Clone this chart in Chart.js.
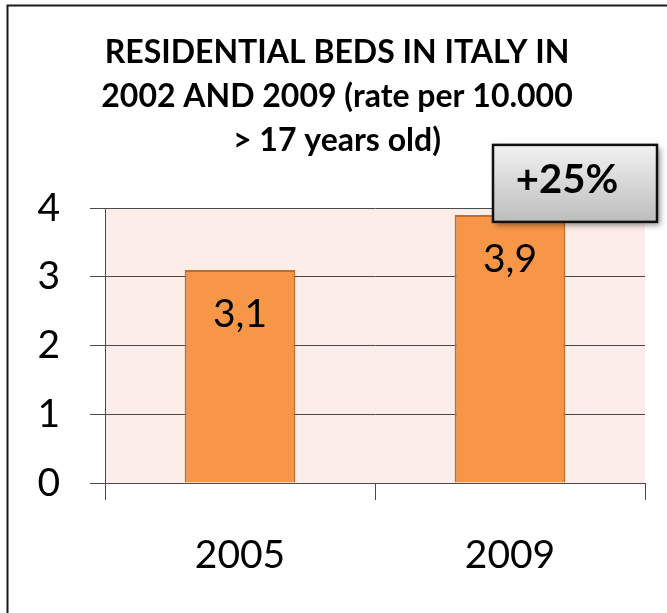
<!DOCTYPE html>
<html>
<head>
<meta charset="utf-8">
<script src="https://cdn.jsdelivr.net/npm/chart.js@4.4.0/dist/chart.umd.min.js"></script>
<style>
  html, body { margin: 0; padding: 0; background: #ffffff; }
  #wrap { width: 667px; height: 613px; }
</style>
</head>
<body>
<div id="wrap"><canvas id="chart" width="667" height="613"></canvas></div>
<script>
// ---- data ----
const categories = ['2005', '2009'];
const bedsRate = [3.1, 3.9];
const yTickValues = [0, 1, 2, 3, 4];
const titleLines = ['RESIDENTIAL BEDS IN ITALY IN', '2002 AND 2009 (rate per 10.000', '> 17 years old)'];
const changeLabel = '+25%';

const FONT = 'Lato, "Open Sans", "DejaVu Sans", sans-serif';

const backgroundPlugin = {
  id: 'bgFrame',
  beforeDraw(chart) {
    const { ctx, chartArea } = chart;
    ctx.save();
    ctx.fillStyle = '#ffffff';
    ctx.fillRect(0, 0, chart.width, chart.height);
    ctx.fillStyle = '#FCEDE8';
    ctx.fillRect(chartArea.left, chartArea.top, chartArea.right - chartArea.left, chartArea.bottom - chartArea.top);
    ctx.strokeStyle = '#1a1a1a';
    ctx.lineWidth = 2;
    ctx.beginPath();
    ctx.moveTo(chart.width, 5.5);
    ctx.lineTo(7.5, 5.5);
    ctx.lineTo(7.5, chart.height);
    ctx.stroke();
    ctx.restore();
  }
};

const valueLabelPlugin = {
  id: 'valueLabels',
  afterDatasetsDraw(chart) {
    const { ctx } = chart;
    const meta = chart.getDatasetMeta(0);
    const data = chart.data.datasets[0].data;
    ctx.save();
    ctx.font = '39px ' + FONT;
    ctx.fillStyle = '#000000';
    ctx.textAlign = 'center';
    ctx.textBaseline = 'middle';
    meta.data.forEach((bar, i) => {
      const txt = String(data[i]).replace('.', ',');
      ctx.fillText(txt, bar.x, bar.y + 45);
    });
    ctx.restore();
  }
};

const calloutPlugin = {
  id: 'callout',
  afterDraw(chart) {
    const { ctx } = chart;
    const meta = chart.getDatasetMeta(0);
    const bar = meta.data[meta.data.length - 1];
    if (!bar) return;
    const w = 164, h = 77;
    const x = bar.x - 17;
    const y = bar.y - 70;
    ctx.save();
    ctx.shadowColor = 'rgba(0,0,0,0.45)';
    ctx.shadowBlur = 6;
    ctx.shadowOffsetX = 3;
    ctx.shadowOffsetY = 3;
    const g = ctx.createLinearGradient(0, y, 0, y + h);
    g.addColorStop(0, '#F2F2F2');
    g.addColorStop(1, '#BDBDBD');
    ctx.fillStyle = g;
    ctx.fillRect(x, y, w, h);
    ctx.shadowColor = 'rgba(0,0,0,0)';
    ctx.strokeStyle = '#111111';
    ctx.lineWidth = 2.5;
    ctx.strokeRect(x, y, w, h);
    ctx.font = 'bold 40px ' + FONT;
    ctx.fillStyle = '#000000';
    ctx.textAlign = 'center';
    ctx.textBaseline = 'middle';
    ctx.fillText(changeLabel, x + w / 2 - 8, y + h / 2 - 3);
    ctx.restore();
  }
};

new Chart(document.getElementById('chart'), {
  type: 'bar',
  data: {
    labels: categories,
    datasets: [{
      data: bedsRate,
      backgroundColor: '#F79646',
      borderColor: '#BE6E2E',
      borderWidth: 2,
      barPercentage: 0.41,
      categoryPercentage: 1.0
    }]
  },
  options: {
    responsive: false,
    animation: false,
    layout: { padding: { left: 7, right: 0, top: 0, bottom: 0 } },
    plugins: {
      legend: { display: false },
      tooltip: { enabled: false },
      title: {
        display: true,
        text: titleLines,
        color: '#000000',
        font: { family: FONT, size: 32, weight: 'bold', lineHeight: 1.375 },
        padding: { top: 31, bottom: 45 }
      }
    },
    scales: {
      x: {
        offset: true,
        grid: { drawOnChartArea: false, drawTicks: true, tickLength: 17, color: '#4a4a4a', offset: true },
        border: { display: true, color: '#4a4a4a', width: 1 },
        ticks: { color: '#000000', padding: 32, font: { family: FONT, size: 39 } },
        afterFit(scale) { scale.height = 130; }
      },
      y: {
        position: 'left',
        min: 0,
        max: 4,
        afterBuildTicks(scale) { scale.ticks = yTickValues.map(v => ({ value: v })); },
        grid: { color: '#4a4a4a', tickLength: 15, drawTicks: true },
        border: { display: true, color: '#4a4a4a', width: 1 },
        ticks: { color: '#000000', padding: 30, font: { family: FONT, size: 39 } },
        afterFit(scale) { scale.width = 98; }
      },
      yRightSpacer: {
        position: 'right',
        display: true,
        grid: { display: false },
        border: { display: false },
        ticks: { display: false },
        afterFit(scale) { scale.width = 22; }
      }
    }
  },
  plugins: [backgroundPlugin, valueLabelPlugin, calloutPlugin]
});
</script>
</body>
</html>
